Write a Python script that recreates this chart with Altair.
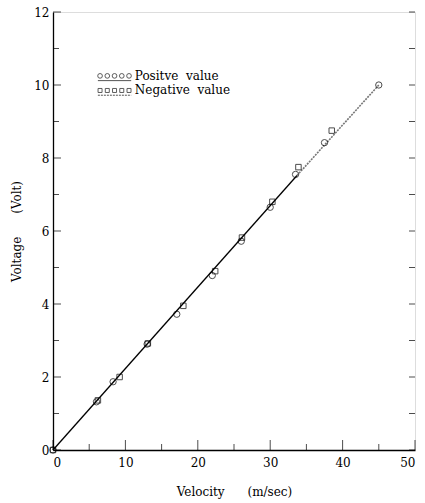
import altair as alt
import pandas as pd

# Data
pos_vel = [0, 6.0, 8.3, 13.0, 17.1, 22.0, 26.0, 30.0, 33.5, 37.5, 45.0]
pos_volt = [0, 1.32, 1.87, 2.9, 3.72, 4.78, 5.72, 6.65, 7.55, 8.42, 10.0]
neg_vel = [0, 6.2, 9.2, 13.1, 18.0, 22.4, 26.1, 30.3, 33.9, 38.5]
neg_volt = [0, 1.36, 2.0, 2.92, 3.95, 4.9, 5.82, 6.8, 7.75, 8.75]
fit_vel = [0, 33.7, 45]
fit_volt = [0, 7.52, 10.0]

x_major = [0, 10, 20, 30, 40, 50]
x_minor = [5, 15, 25, 35, 45]
y_major = [0, 2, 4, 6, 8, 10, 12]
y_minor = [1, 3, 5, 7, 9, 11]

NB = "\u00a0"
legend_labels = ["Positve" + NB * 2 + "value", "Negative" + NB * 2 + "value"]
legend_y = [10.25, 9.85]
legend_sym_x = [6.5, 7.5, 8.5, 9.5, 10.5]
legend_line_x = [6.2, 10.8]
legend_line_y = [10.12, 9.72]

FONT = "DejaVu Serif"
W, H = 362, 438

xs = alt.Scale(domain=[0, 50], nice=False)
ys = alt.Scale(domain=[0, 12], nice=False)

pos_df = pd.DataFrame({"v": pos_vel, "u": pos_volt})
neg_df = pd.DataFrame({"v": neg_vel, "u": neg_volt})
fit_solid = pd.DataFrame({"v": fit_vel[:2], "u": fit_volt[:2]})
fit_dash = pd.DataFrame({"v": fit_vel[1:], "u": fit_volt[1:]})

base_x = alt.X("v:Q", scale=xs, axis=alt.Axis(
    title="Velocity" + NB * 6 + "(m/sec)", values=x_major, tickSize=0, grid=False,
    labelFont=FONT, labelFontSize=12, titleFont=FONT, titleFontSize=12,
    titleFontWeight="normal", labelPadding=7, titlePadding=18,
    domainColor="black", domainWidth=1.3, labelColor="black", titleColor="black"))
base_y = alt.Y("u:Q", scale=ys, axis=alt.Axis(
    title="Voltage" + NB * 6 + "(Volt)", values=y_major, tickSize=0, grid=False,
    labelFont=FONT, labelFontSize=12, titleFont=FONT, titleFontSize=12,
    titleFontWeight="normal", labelPadding=4, titlePadding=10,
    domainColor="black", domainWidth=1.3, labelColor="black", titleColor="black"))

line_solid = alt.Chart(fit_solid).mark_line(color="black", strokeWidth=1.3).encode(x=base_x, y=base_y)
line_dash = alt.Chart(fit_dash).mark_line(color="#777777", strokeWidth=1.6, strokeDash=[2, 1]).encode(
    x=alt.X("v:Q", scale=xs), y=alt.Y("u:Q", scale=ys))

circles = alt.Chart(pos_df).mark_point(shape="circle", filled=False, color="black", size=40, strokeWidth=1).encode(
    x=alt.X("v:Q", scale=xs), y=alt.Y("u:Q", scale=ys))
squares = alt.Chart(neg_df).mark_point(shape="square", filled=False, color="black", size=30, strokeWidth=1).encode(
    x=alt.X("v:Q", scale=xs), y=alt.Y("u:Q", scale=ys))

# inward ticks
xmaj = alt.Chart(pd.DataFrame({"v": x_major})).mark_tick(color="black", size=10, thickness=1, orient="vertical").encode(
    x=alt.X("v:Q", scale=xs), y=alt.value(H - 5))
xmin = alt.Chart(pd.DataFrame({"v": x_minor})).mark_tick(color="black", size=6, thickness=1, orient="vertical").encode(
    x=alt.X("v:Q", scale=xs), y=alt.value(H - 3))
ymaj = alt.Chart(pd.DataFrame({"u": y_major})).mark_tick(color="black", size=8, thickness=1, orient="horizontal").encode(
    y=alt.Y("u:Q", scale=ys), x=alt.value(4))
ymin = alt.Chart(pd.DataFrame({"u": y_minor})).mark_tick(color="black", size=6, thickness=1, orient="horizontal").encode(
    y=alt.Y("u:Q", scale=ys), x=alt.value(3))
rmaj = alt.Chart(pd.DataFrame({"u": y_major + y_minor})).mark_tick(color="black", size=6, thickness=1, orient="horizontal").encode(
    y=alt.Y("u:Q", scale=ys), x=alt.value(W - 3))

# legend
leg_pts = pd.DataFrame({"v": legend_sym_x, "u": [legend_y[0]] * 5})
leg_sq = pd.DataFrame({"v": legend_sym_x, "u": [legend_y[1]] * 5})
leg_c = alt.Chart(leg_pts).mark_point(shape="circle", filled=False, color="black", size=22, strokeWidth=0.9).encode(
    x=alt.X("v:Q", scale=xs), y=alt.Y("u:Q", scale=ys))
leg_s = alt.Chart(leg_sq).mark_point(shape="square", filled=False, color="black", size=16, strokeWidth=0.9).encode(
    x=alt.X("v:Q", scale=xs), y=alt.Y("u:Q", scale=ys))
leg_l1 = alt.Chart(pd.DataFrame({"v": legend_line_x, "u": [legend_line_y[0]] * 2})).mark_line(
    color="#555555", strokeWidth=1).encode(x=alt.X("v:Q", scale=xs), y=alt.Y("u:Q", scale=ys))
leg_l2 = alt.Chart(pd.DataFrame({"v": legend_line_x, "u": [legend_line_y[1]] * 2})).mark_line(
    color="#555555", strokeWidth=1, strokeDash=[2, 1]).encode(x=alt.X("v:Q", scale=xs), y=alt.Y("u:Q", scale=ys))
leg_txt = alt.Chart(pd.DataFrame({"v": [11.3, 11.3], "u": legend_y, "t": legend_labels})).mark_text(
    font=FONT, fontSize=12, align="left", baseline="middle", color="black").encode(
    x=alt.X("v:Q", scale=xs), y=alt.Y("u:Q", scale=ys), text="t:N")

chart = alt.layer(line_solid, line_dash, circles, squares, xmaj, xmin, ymaj, ymin, rmaj,
                  leg_l1, leg_l2, leg_c, leg_s, leg_txt).properties(
    width=W, height=H, autosize=alt.AutoSizeParams(type="none"),
    padding={"left": 53, "top": 12, "right": 10, "bottom": 53}
).configure_view(stroke="black", strokeWidth=1.3).configure(background="white")

chart.save("out.html", embed_options={"renderer": "svg", "actions": False})
